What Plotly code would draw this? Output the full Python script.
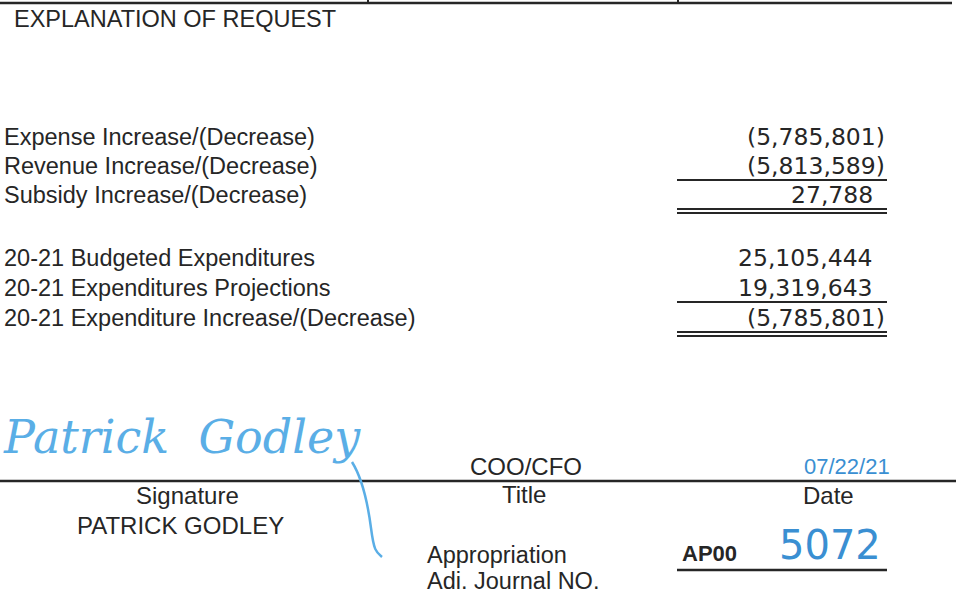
import plotly.graph_objects as go

# document content
header = "EXPLANATION OF REQUEST"
block1_labels = ["Expense Increase/(Decrease)", "Revenue Increase/(Decrease)", "Subsidy Increase/(Decrease)"]
block1_values = [-5785801, -5813589, 27788]
block2_labels = ["20-21 Budgeted Expenditures", "20-21 Expenditures Projections", "20-21 Expenditure Increase/(Decrease)"]
block2_values = [25105444, 19319643, -5785801]
signer = "PATRICK GODLEY"
title_text = "COO/CFO"
date_text = "07/22/21"
journal_prefix = "AP00"
journal_no = "5072"

INK = "#262626"
BLUE = "#3a8fd2"
SIG = "#5aaee6"
FONT = "Liberation Sans, Arial, sans-serif"
NUMFONT = "DejaVu Sans, sans-serif"


def fmt(v):
    s = f"{abs(v):,}"
    return f"({s})" if v < 0 else s


fig = go.Figure()
ann = []
shapes = []


def text(x, y, s, size=24, anchor="left", color=INK, family=FONT):
    # annotations carry ~2px of padding, so nudge to hit the target edge
    dx = {"left": -2, "right": 2, "center": 0}[anchor]
    ann.append(dict(x=x + dx, y=y, text=s, xref="x", yref="y", showarrow=False,
                    xanchor=anchor, yanchor="middle", borderpad=0,
                    font=dict(size=size, color=color, family=family)))


def hline(x0, x1, y, w=2):
    shapes.append(dict(type="line", x0=x0, x1=x1, y0=y, y1=y, xref="x", yref="y",
                       line=dict(color=INK, width=w)))


# top border of the form
hline(0, 952, 3, 2.5)
for vx in (368, 678):
    shapes.append(dict(type="line", x0=vx, x1=vx, y0=0, y1=3, xref="x", yref="y",
                       line=dict(color=INK, width=2)))

text(15, 19, header, size=23.5)


def block(labels, values, ys, single_y, double_y):
    for lab, val, y in zip(labels, values, ys):
        text(5, y, lab, size=23.5)
        text(884 if val < 0 else 872, y, fmt(val), anchor="right", size=23.5, family=NUMFONT)
    hline(677, 887, single_y)
    hline(677, 887, double_y)
    hline(677, 887, double_y + 4)


block(block1_labels, block1_values, [137, 166, 195], 180, 209)
block(block2_labels, block2_values, [258, 288, 318], 302, 332)

# signature section
hline(0, 956, 481, 2.5)
text(4, 437, "<i>Patrick  Godley</i>", size=46, color=SIG, family="DejaVu Serif, serif")
shapes.append(dict(type="path", path="M 352 462 C 362 478, 368 505, 371 528 S 376 552, 382 557",
                   xref="x", yref="y", line=dict(color=SIG, width=2.5)))
text(187, 495, "Signature", anchor="center")
text(180, 525, signer, anchor="center")
text(526, 466, title_text, anchor="center")
text(524, 494, "Title", anchor="center")
text(847, 466, date_text, anchor="center", color=BLUE, size=22)
text(828, 495, "Date", anchor="center")

text(428, 555, "Appropriation", size=23.5)
text(428, 581, "Adi. Journal NO.", size=23.5)
text(683, 553, f"<b>{journal_prefix}</b>", size=22)
text(780, 545, journal_no, size=40, color=BLUE, family=NUMFONT)
hline(677, 887, 570, 2.5)

fig.update_layout(
    width=963, height=593,
    margin=dict(l=0, r=0, t=0, b=0),
    paper_bgcolor="white", plot_bgcolor="white",
    xaxis=dict(range=[0, 963], visible=False, fixedrange=True),
    yaxis=dict(range=[593, 0], visible=False, fixedrange=True),
    annotations=ann, shapes=shapes, showlegend=False,
)
# drop the page's default 8px body margin so the figure sits at the window corner
fig.write_html("out.html", config={"displayModeBar": False},
               post_script="document.body.style.margin='0';")
